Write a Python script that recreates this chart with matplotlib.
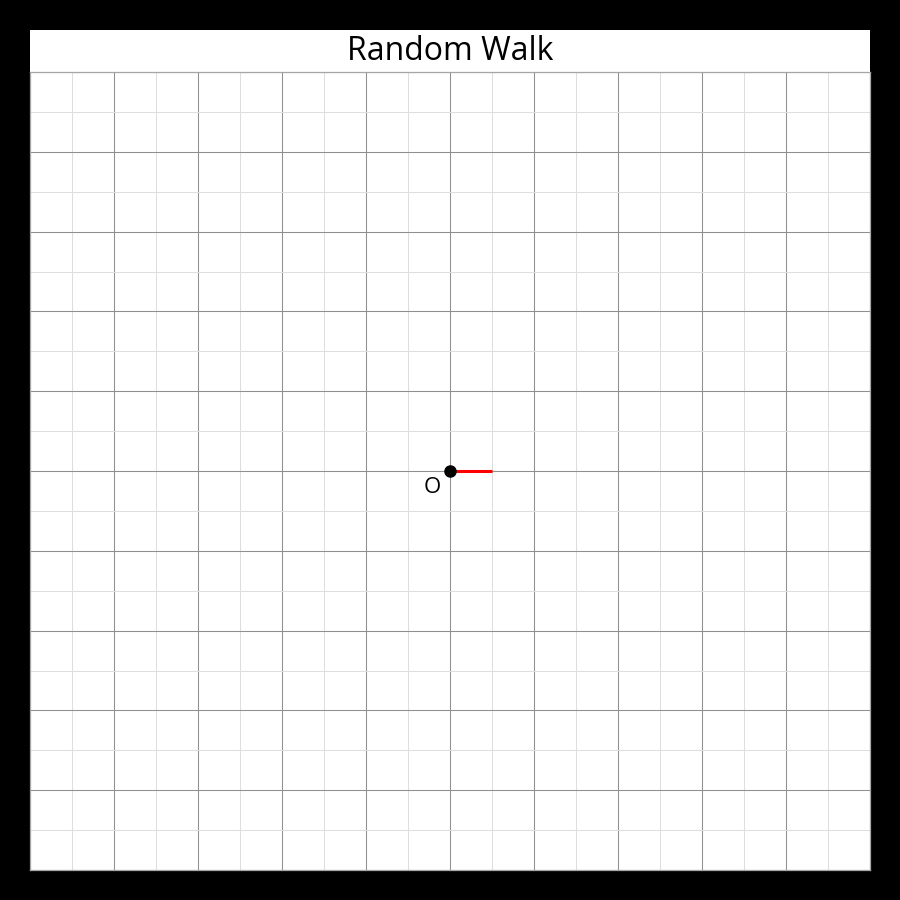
import numpy as np
import matplotlib.pyplot as plt
from matplotlib.patches import Rectangle

plt.rcParams['font.family'] = ['Open Sans', 'DejaVu Sans']

# walk so far: start at origin, one half-step to the right
walk_x = [0.0, 0.5]
walk_y = [0.0, 0.0]
origin = (0.0, 0.0)
origin_label = 'O'
title = 'Random Walk'
lim = 5

fig = plt.figure(figsize=(9, 9), dpi=100, facecolor='black')

# white panel holding title + plot
fig.patches.append(Rectangle((30 / 900, 30 / 900), 840 / 900, 840 / 900,
                             transform=fig.transFigure, facecolor='white',
                             edgecolor='none', zorder=-1))
fig.text(0.5, 1 - 52 / 900, title, ha='center', va='center', fontsize=23)

ax = fig.add_axes([29.5 / 900, 30 / 900, 840 / 900, 798 / 900])
ax.set_xlim(-lim, lim)
ax.set_ylim(-lim, lim)

ax.set_xticks(np.arange(-lim, lim + 1, 1))
ax.set_yticks(np.arange(-lim, lim + 1, 1))
ax.set_xticks(np.arange(-lim, lim + 0.5, 0.5), minor=True)
ax.set_yticks(np.arange(-lim, lim + 0.5, 0.5), minor=True)
ax.grid(which='major', color='#8f8f8f', linewidth=0.75)
ax.grid(which='minor', color='#dedede', linewidth=0.75)
ax.tick_params(which='both', length=0, labelbottom=False, labelleft=False)
for s in ax.spines.values():
    s.set_color('#a6a6a6')
    s.set_linewidth(0.9)
ax.set_axisbelow(True)

ax.plot(walk_x, walk_y, color='red', linewidth=2.2, solid_capstyle='butt', zorder=3)
ax.plot(*origin, 'o', color='black', markersize=8, zorder=4)
ax.text(origin[0] - 0.2, origin[1] - 0.21, origin_label, ha='center', va='center',
        fontsize=16)

fig.savefig('out.png', dpi=100, facecolor='black')
